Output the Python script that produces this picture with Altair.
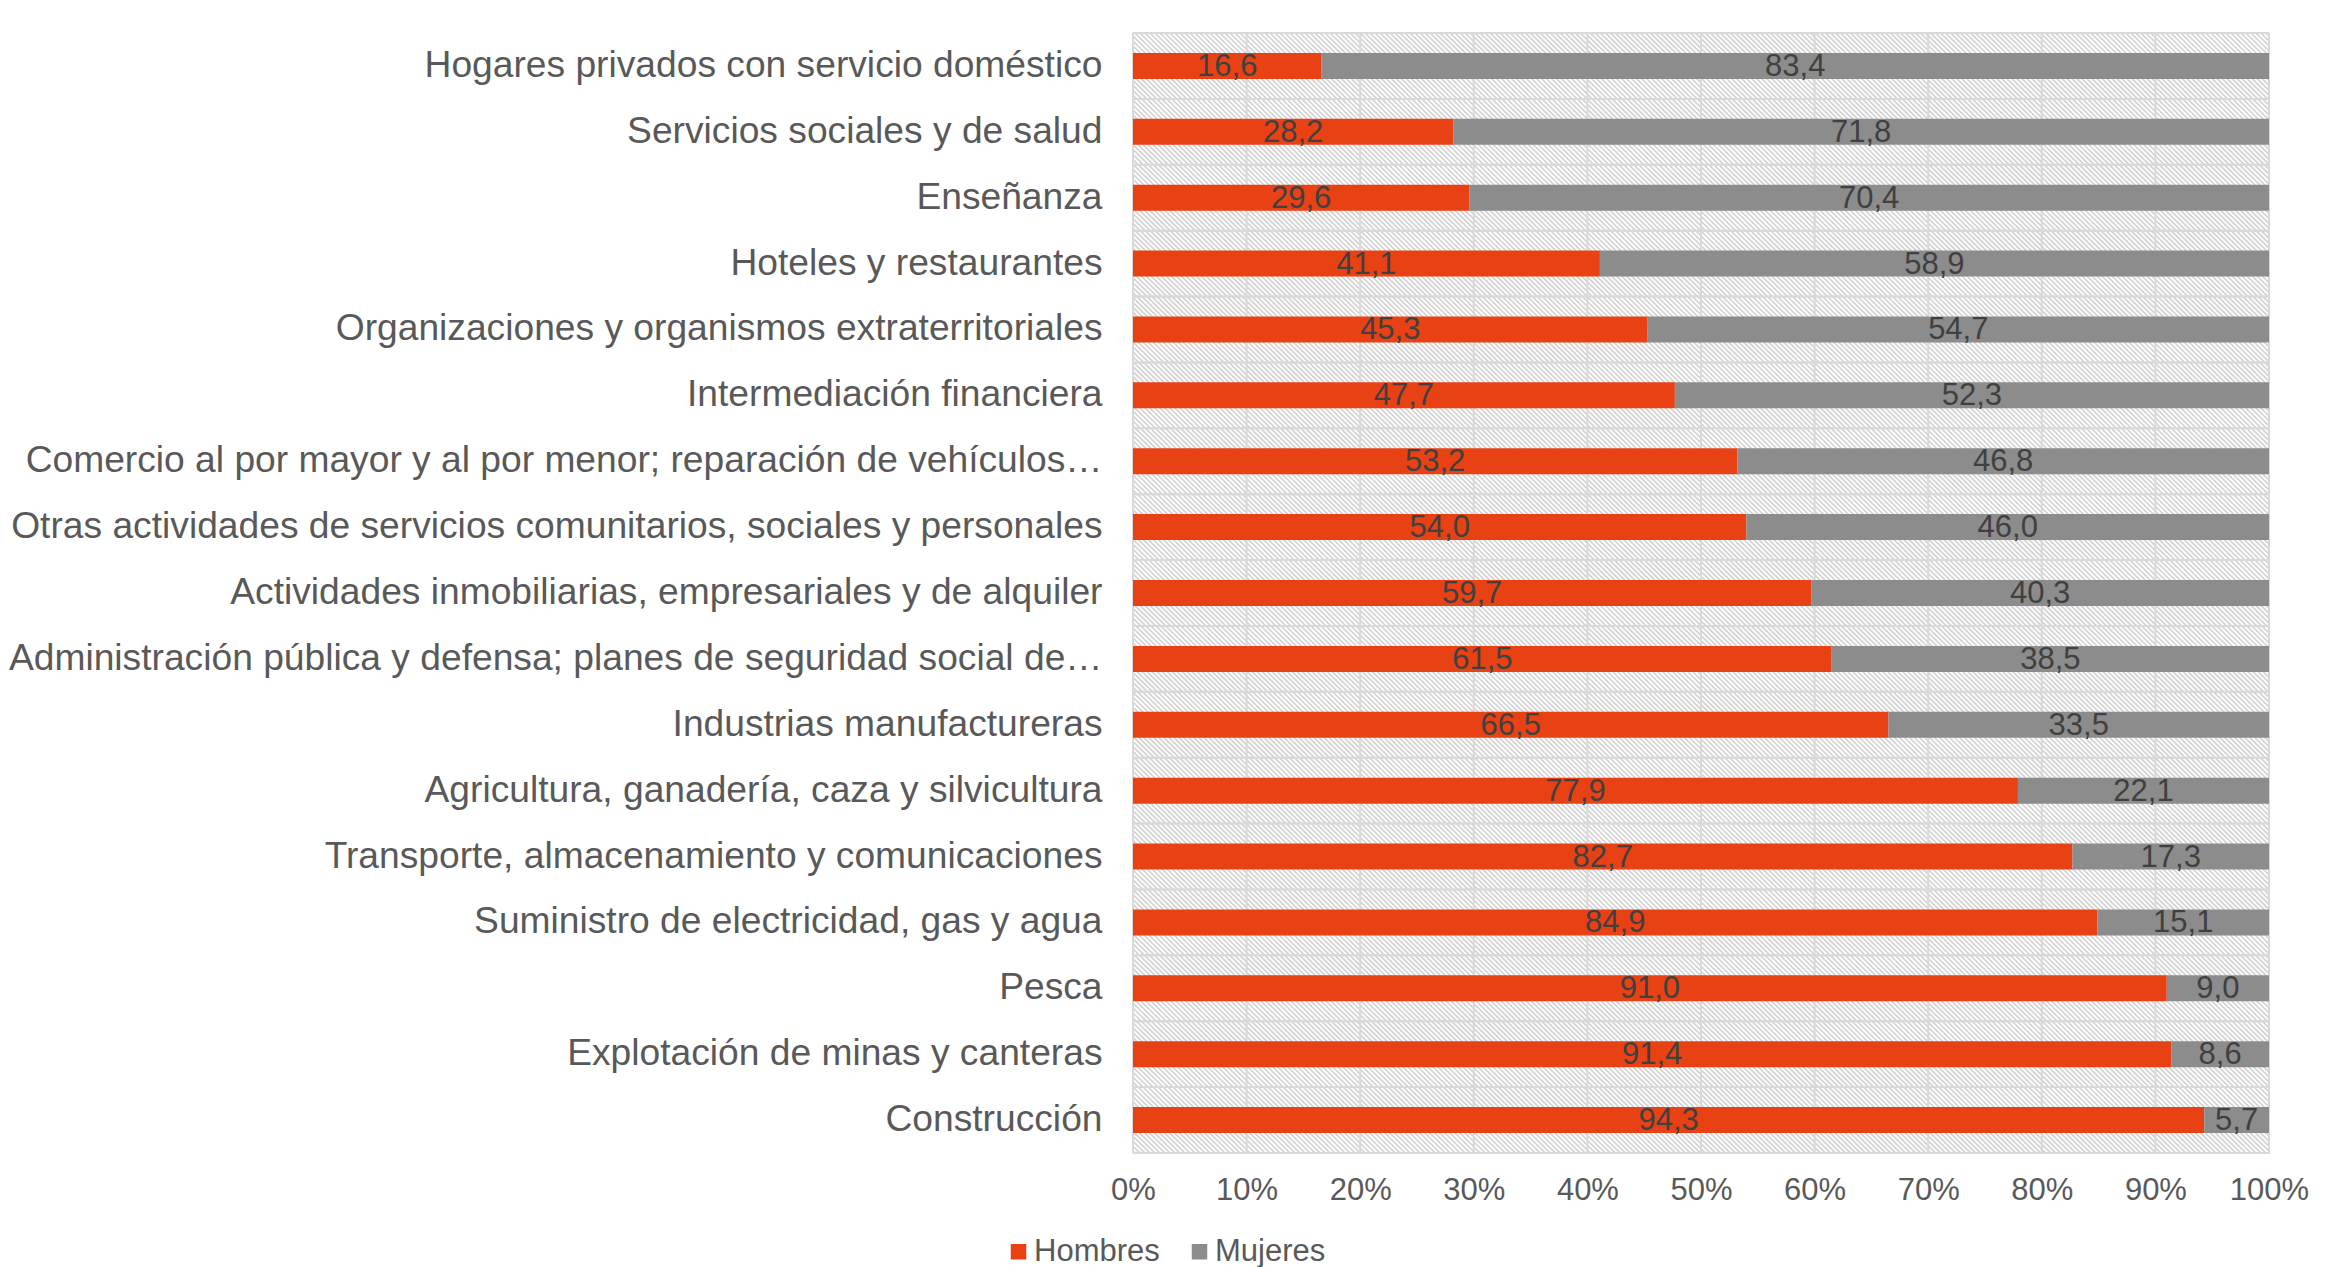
import altair as alt
import pandas as pd

categories = [
    "Hogares privados con servicio doméstico",
    "Servicios sociales y de salud",
    "Enseñanza",
    "Hoteles y restaurantes",
    "Organizaciones y organismos extraterritoriales",
    "Intermediación financiera",
    "Comercio al por mayor y al por menor; reparación de vehículos…",
    "Otras actividades de servicios comunitarios, sociales y personales",
    "Actividades inmobiliarias, empresariales y de alquiler",
    "Administración pública y defensa; planes de seguridad social de…",
    "Industrias manufactureras",
    "Agricultura, ganadería, caza y silvicultura",
    "Transporte, almacenamiento y comunicaciones",
    "Suministro de electricidad, gas y agua",
    "Pesca",
    "Explotación de minas y canteras",
    "Construcción",
]
hombres = [16.6, 28.2, 29.6, 41.1, 45.3, 47.7, 53.2, 54.0, 59.7, 61.5, 66.5, 77.9, 82.7, 84.9, 91.0, 91.4, 94.3]
mujeres = [83.4, 71.8, 70.4, 58.9, 54.7, 52.3, 46.8, 46.0, 40.3, 38.5, 33.5, 22.1, 17.3, 15.1, 9.0, 8.6, 5.7]
series = ["Hombres", "Mujeres"]
x_ticks = [0, 10, 20, 30, 40, 50, 60, 70, 80, 90, 100]

ORANGE = "#E84114"
GRAY = "#8C8C8C"
GRID = "#D9D9D9"
FONT = "Liberation Sans"

rows = []
for c, h, m in zip(categories, hombres, mujeres):
    rows.append({"cat": c, "serie": "Hombres", "order": 0, "value": h,
                 "label": f"{h:.1f}".replace(".", ",")})
    rows.append({"cat": c, "serie": "Mujeres", "order": 1, "value": m,
                 "label": f"{m:.1f}".replace(".", ",")})
df = pd.DataFrame(rows)
df_cat = pd.DataFrame({"cat": categories})
df_ticks = pd.DataFrame({"t": x_ticks})

# diagonal hatch background via a striped linear gradient (soft-edged stripes)
N = 454
stops = []
for k in range(N):
    a = k / N
    stops += [
        alt.GradientStop(offset=a, color="#FFFFFF"),
        alt.GradientStop(offset=(k + 0.3) / N, color="#D4D4D4"),
        alt.GradientStop(offset=(k + 0.5) / N, color="#D4D4D4"),
        alt.GradientStop(offset=(k + 0.8) / N, color="#FFFFFF"),
    ]
stops.append(alt.GradientStop(offset=1, color="#FFFFFF"))
hatch_fill = alt.LinearGradient(gradient="linear", stops=stops, x1=0, y1=1, x2=1, y2=0)

xscale = alt.Scale(domain=[0, 100], nice=False, zero=False)
yscale = alt.Scale(paddingInner=0, paddingOuter=0)

x_axis = alt.Axis(title=None, values=x_ticks, ticks=False, domain=False, grid=False,
                  labelExpr="datum.value + '%'", labelFontSize=31, labelFlush=False,
                  labelColor="#595959", labelFont=FONT, labelPadding=22)
y_axis = alt.Axis(title=None, ticks=False, domain=False, grid=False,
                  labelFontSize=37.2, labelColor="#595959", labelFont=FONT,
                  labelPadding=31, labelLimit=1300)

hatch = alt.Chart(pd.DataFrame({"z": [0]})).mark_rect(fill=hatch_fill, strokeWidth=0).encode(
    x=alt.datum(0, scale=xscale, axis=x_axis),
    x2=alt.datum(100),
)

vgrid = alt.Chart(df_ticks).mark_rule(color=GRID, strokeWidth=2).encode(
    x=alt.X("t:Q", scale=xscale, axis=x_axis)
)

hgrid_top = alt.Chart(df_cat).mark_rule(color=GRID, strokeWidth=2).encode(
    y=alt.Y("cat:N", sort=categories, scale=yscale, axis=y_axis, bandPosition=0)
)
hgrid_bot = alt.Chart(df_cat).mark_rule(color=GRID, strokeWidth=2).encode(
    y=alt.Y("cat:N", sort=categories, scale=yscale, axis=y_axis, bandPosition=1)
)

base = alt.Chart(df).transform_stack(
    stack="value", groupby=["cat"], as_=["x0", "x1"],
    sort=[alt.SortField("order", order="ascending")]
).transform_calculate(mid="(datum.x0 + datum.x1) / 2")

bars = base.mark_bar(size=26).encode(
    y=alt.Y("cat:N", sort=categories, scale=yscale, axis=y_axis),
    x=alt.X("x0:Q", scale=xscale, axis=x_axis),
    x2="x1:Q",
    color=alt.Color("serie:N", scale=alt.Scale(domain=series, range=[ORANGE, GRAY]),
                    legend=alt.Legend(title=None, orient="none", direction="horizontal",
                                      legendX=-130, legendY=1203, padding=0,
                                      symbolType="square", symbolSize=240,
                                      symbolStrokeWidth=0, symbolOpacity=1,
                                      labelFontSize=31, labelColor="#595959",
                                      labelFont=FONT, labelOffset=0, columnPadding=24)),
    order=alt.Order("order:Q"),
)

text = base.mark_text(fontSize=31, color="#404040", font=FONT, baseline="middle", dy=1).encode(
    y=alt.Y("cat:N", sort=categories, scale=yscale, axis=y_axis),
    x=alt.X("mid:Q", scale=xscale, axis=x_axis),
    text="label:N",
)

chart = alt.layer(hatch, vgrid, hgrid_top, hgrid_bot, bars, text).properties(
    width=1136, height=1120,
    padding={"left": 0, "top": 24, "right": 5, "bottom": 5},
).configure_view(stroke=GRID, strokeWidth=2).configure(font=FONT)

chart.save("out.html", embed_options={"renderer": "svg", "actions": False})
